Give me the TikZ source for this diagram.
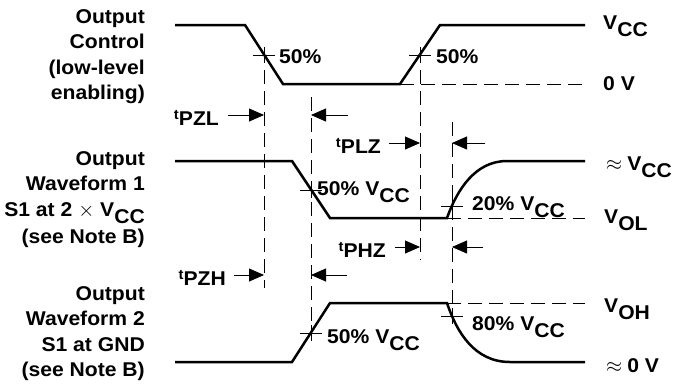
\documentclass[tikz,border=0pt]{standalone}
\usepackage{fontspec}
\setmainfont{Liberation Sans}[FakeStretch=1.06]
\usetikzlibrary{arrows.meta}

\newcommand{\tsig}[1]{\raisebox{6bp}{\fontsize{14}{14}\selectfont t}#1}
\newcommand{\vsig}[2]{#1\raisebox{-7bp}{#2}}

\tikzset{
  wave/.style={line width=2.5bp, line join=miter},
  guide/.style={line width=0.8bp, dash pattern=on 14bp off 7bp},
  tick/.style={line width=0.8bp},
  tarrow/.style={line width=0.8bp, -{Triangle[length=15bp,width=13bp]}},
  lbl/.style={font=\bfseries\fontsize{20}{25.6}\selectfont, inner sep=0pt},
}

\begin{document}
\begin{tikzpicture}[x=1bp, y=-1bp]
\useasboundingbox (0,0) rectangle (685,388);

% 50% crossings of the edges
\coordinate (xa) at (264,55);
\coordinate (xc) at (420,55);
\coordinate (xb) at (311,190);
\coordinate (xd) at (452,206);
\coordinate (xe) at (311,333);
\coordinate (xf) at (452,316);

% waveforms
\draw[wave] (175,25) -- (245,25) -- (283,84) -- (400,84) -- (440,25) -- (585,25);
\draw[wave] (175,161) -- (292,161) -- (330,218) -- (447,218)
  .. controls (457,190) and (475,161) .. (507,161) -- (585,161);
\draw[wave] (175,362) -- (292,362) -- (330,303) -- (447,303)
  .. controls (457,333) and (475,362) .. (510,362) -- (585,362);

% reference levels
\draw[guide] (400,84) -- (585,84);
\draw[guide] (447,218) -- (585,218);
\draw[guide] (447,303) -- (585,303);

% timing lines
\draw[guide] (264,70) -- (264,288);
\draw[guide] (311,97) -- (311,333);
\draw[guide] (420,70) -- (420,260);
\draw[guide] (452,122) -- (452,316);

% crossing marks
\foreach \c in {xa,xb,xc,xd,xe,xf}
  \draw[tick] ([xshift=-11bp]\c) -- ([xshift=11bp]\c)
              ([yshift=8bp]\c) -- ([yshift=-8bp]\c);

% edge labels
\node[lbl, anchor=base west] (pa) at (279,63) {50\%};
\node[lbl, anchor=base west] (pc) at (436,63) {50\%};
\node[lbl, anchor=base west] (pb) at (317,195) {50\% \vsig{V}{CC}};
\node[lbl, anchor=base west] (pd) at (472,210) {20\% \vsig{V}{CC}};
\node[lbl, anchor=base west] (pe) at (327,343) {50\% \vsig{V}{CC}};
\node[lbl, anchor=base west] (pf) at (472,330) {80\% \vsig{V}{CC}};

% levels
\node[lbl, anchor=base west] (vcc) at (603,29) {\vsig{V}{CC}};
\node[lbl, anchor=base west] (vzero) at (603,90) {0 V};
\node[lbl, anchor=base west] (vhi) at (606,170) {$\approx$\hspace{5bp}\vsig{V}{CC}};
\node[lbl, anchor=base west] (vol) at (604,223) {\vsig{V}{OL}};
\node[lbl, anchor=base west] (voh) at (604,312) {\vsig{V}{OH}};
\node[lbl, anchor=base west] (vlo) at (606,372) {$\approx$\hspace{5bp}0 V};

% signal names
\node[lbl, align=right, anchor=north east] (ctrl) at (145,9)
  {Output\\Control\\(low-level\\enabling)};
\node[lbl, align=right, anchor=north east] (wf1) at (145,151)
  {Output\\Waveform 1\\S1 at 2 $\times$ \vsig{V}{CC}\\[1.5bp](see Note B)};
\node[lbl, align=right, anchor=north east] (wf2) at (145,286)
  {Output\\Waveform 2\\S1 at GND\\(see Note B)};

% timing parameters
\node[lbl, anchor=east] (tpzl) at (219,118) {\tsig{PZL}};
\node[lbl, anchor=east] (tplz) at (381,146) {\tsig{PLZ}};
\node[lbl, anchor=east] (tphz) at (386,250) {\tsig{PHZ}};
\node[lbl, anchor=east] (tpzh) at (226,278) {\tsig{PZH}};

\draw[tarrow] ([xshift=9bp,yshift=3bp]tpzl.east) -- ([yshift=3bp]tpzl.east -| xa);
\draw[tarrow] ([xshift=37bp,yshift=3bp]tpzl.east -| xb) -- ([yshift=3bp]tpzl.east -| xb);
\draw[tarrow] ([xshift=8bp,yshift=3bp]tplz.east) -- ([yshift=3bp]tplz.east -| xc);
\draw[tarrow] ([xshift=33bp,yshift=3bp]tplz.east -| xd) -- ([yshift=3bp]tplz.east -| xd);
\draw[tarrow] ([xshift=9bp,yshift=3bp]tphz.east) -- ([yshift=3bp]tphz.east -| xc);
\draw[tarrow] ([xshift=31bp,yshift=3bp]tphz.east -| xd) -- ([yshift=3bp]tphz.east -| xd);
\draw[tarrow] ([xshift=8bp,yshift=3bp]tpzh.east) -- ([yshift=3bp]tpzh.east -| xa);
\draw[tarrow] ([xshift=36bp,yshift=3bp]tpzh.east -| xb) -- ([yshift=3bp]tpzh.east -| xb);
\end{tikzpicture}
\end{document}
